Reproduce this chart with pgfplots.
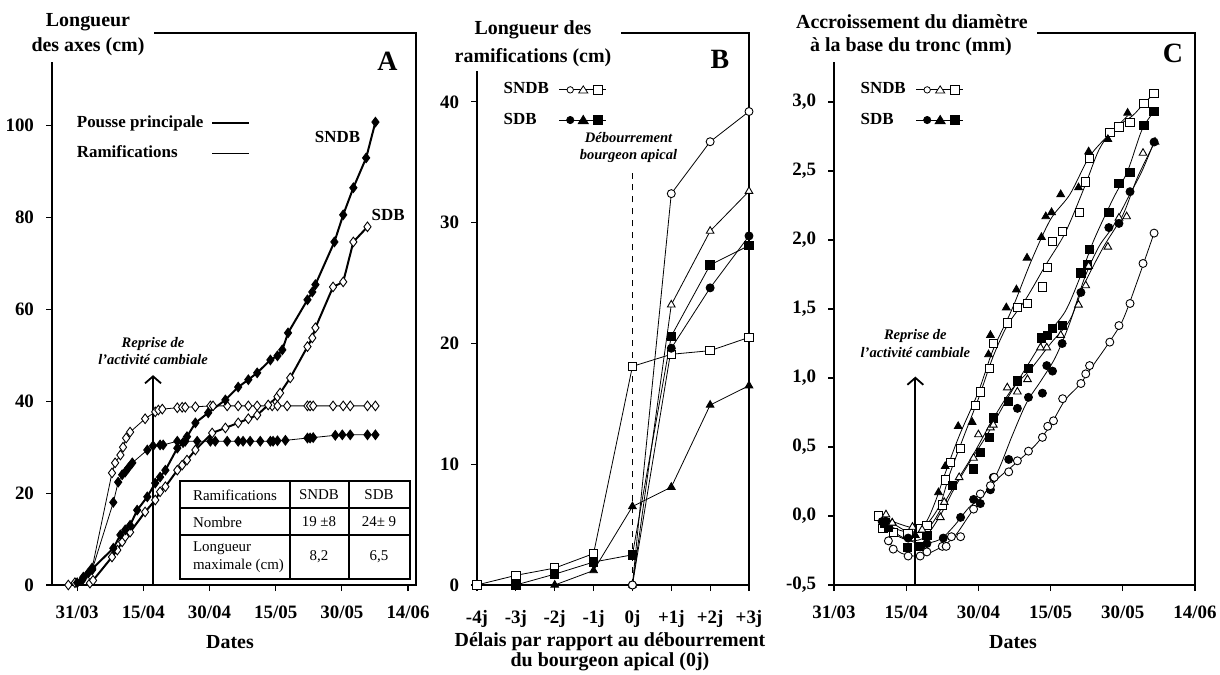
\documentclass[border=0pt]{standalone}
\usepackage{fontspec}
\setmainfont{Liberation Serif}
\usepackage{pgfplots}
\pgfplotsset{compat=1.18}
\usetikzlibrary{arrows.meta}
\newcommand{\tlf}{\fontsize{10}{11}\selectfont\bfseries}
\newcommand{\tkf}{\fontsize{9.5}{11}\selectfont\bfseries}
\newcommand{\lgf}{\fontsize{8.5}{10}\selectfont\bfseries}
\newcommand{\itf}{\fontsize{7.3}{8.6}\selectfont\bfseries\itshape}
\newcommand{\tbf}{\fontsize{7.5}{9}\selectfont}
\pgfplotsset{
  panel/.style={scale only axis, anchor=south west, height=276bp,
    axis line style={line width=0.75bp}, tick align=outside, tick pos=left,
    major tick length=3bp, tick style={black, line width=0.6bp},
    tick label style={font=\tkf}, clip=false,
    xticklabel style={yshift=-4bp}, yticklabel style={xshift=-2.5bp},
    legend style={draw=none, fill=none, font=\lgf, legend cell align=left},
    legend plot pos=right},
  op/.style={mark options={fill=white, solid, line width=0.45bp}},
  fp/.style={mark options={fill=black, solid, line width=0.45bp}},
}
\begin{document}
\begin{tikzpicture}
\path[use as bounding box] (0,0) rectangle (610bp,337.5bp);

%%%%%%%%%%%%%%%% Panel A
\begin{axis}[panel, at={(26bp,45bp)}, width=182bp,
  xmin=-5.7, xmax=76.8, ymin=0, ymax=120.2,
  xtick={0,15,30,45,60,75}, xticklabels={31/03,15/04,30/04,15/05,30/05,14/06},
  ytick={0,20,40,60,80,100}, yticklabels={0,20,40,60,80,100},
  legend style={at={(axis description cs:0.04,0.865)}, anchor=north west, row sep=3.5bp, column sep=2bp}]
\addlegendimage{line width=1bp, legend image code/.code={\draw (0bp,0bp) -- (18.5bp,0bp);}}
\addlegendentry{Pousse principale}
\addlegendimage{line width=0.4bp, legend image code/.code={\draw (0bp,0bp) -- (18.5bp,0bp);}}
\addlegendentry{Ramifications}
% ramifications, open
\addplot[forget plot, black, line width=0.4bp, mark=diamond*, mark size=2.4bp, op] coordinates {
(-2.0,0)(-0.5,0.5)(1.4,1.5)(3.4,3.7)(7.9,24.4)(8.6,26.6)(9.8,28.3)(10.4,30.0)(11.1,32.0)(12.0,33.3)(15.4,36.2)(17.7,37.7)(18.4,38.1)(19.3,38.3)(22.7,38.6)(23.8,38.7)(24.5,38.7)(26.8,38.8)(30.2,39)(30.8,39)(34.0,39)(36.5,39)(38.8,39)(40.8,39)(44.2,39)(45.4,39)(47.6,39)(52.2,39)(52.8,39)(53.5,39)(58.0,39)(60.3,39)(61.9,39)(65.8,39)(67.6,39)};
% ramifications, filled
\addplot[forget plot, black, line width=0.4bp, mark=diamond*, mark size=2.4bp, fp] coordinates {
(0.0,0.5)(1.4,1.7)(3.4,3.3)(8.2,18.0)(9.3,22.4)(10.2,24.0)(10.9,24.6)(11.6,25.5)(12.5,26.6)(15.9,29.4)(17.2,30.3)(18.8,30.5)(19.5,30.5)(22.7,31.3)(24.5,31.3)(27.2,31.3)(30.2,31.3)(31.3,31.3)(34.0,31.3)(36.5,31.3)(37.6,31.3)(39.2,31.3)(41.5,31.3)(43.8,31.3)(44.4,31.3)(45.4,31.4)(47.2,31.5)(52.2,32.0)(52.8,32.0)(53.5,32.1)(58.5,32.6)(60.1,32.7)(61.9,32.7)(65.8,32.7)(67.6,32.7)};
% main shoot, open (SDB)
\addplot[forget plot, black, line width=1bp, mark=diamond*, mark size=2.4bp, op] coordinates {
(2.9,0.4)(3.6,1.0)(7.9,6.1)(9.1,7.6)(10.2,9.4)(10.9,10.5)(12.0,11.5)(15.4,15.9)(17.7,18.5)(18.8,20.3)(20.0,21.4)(22.7,25.0)(23.8,26.1)(24.9,27.2)(26.8,29.4)(30.6,33.1)(33.6,34.2)(36.5,35.3)(38.8,36.2)(40.8,37.0)(43.3,39.2)(45.4,41.0)(46.0,41.8)(48.3,45.1)(52.2,51.9)(53.3,53.8)(54.0,56.0)(58.0,64.9)(60.3,66.0)(62.6,74.7)(65.8,78.0)};
% main shoot, filled (SNDB)
\addplot[forget plot, black, line width=1bp, mark=diamond*, mark size=2.4bp, fp] coordinates {
(1.1,1.0)(2.5,2.6)(3.4,3.5)(8.2,8.0)(9.8,10.9)(10.9,12.0)(12.0,13.0)(13.6,16.3)(15.9,19.2)(17.7,22.2)(18.8,23.5)(20.0,25.0)(22.7,29.8)(24.0,31.0)(24.9,32.3)(26.8,35.3)(29.7,37.5)(33.6,40.3)(36.5,43.1)(38.8,44.7)(40.8,46.2)(43.8,49.0)(45.4,49.9)(46.5,51.2)(47.8,54.9)(52.2,62.1)(53.3,63.8)(54.0,65.4)(58.3,74.7)(60.3,80.6)(62.6,86.5)(65.5,93.0)(67.6,100.8)};
\draw[line width=0.9bp, -{Straight Barb[length=3.5bp, width=8bp]}] (axis cs:17.2,0) -- (axis cs:17.2,45.7);
\node[font=\itf, align=center] at (axis cs:17.2,51) {Reprise de\\l'activité cambiale};
\node[font=\lgf] at (axis cs:59,97.6) {SNDB};
\node[font=\lgf] at (axis cs:70.5,80.6) {SDB};
\node[font=\fontsize{14}{16}\selectfont\bfseries] at (axis cs:70.3,114) {A};
\end{axis}

%%%%%%%%%%%%%%%% Panel B
\begin{axis}[panel, at={(238.5bp,45bp)}, width=136bp,
  xmin=-4, xmax=3, ymin=0, ymax=45.7,
  xtick={-4,-3,-2,-1,0,1,2,3}, xticklabels={-4j,-3j,-2j,-1j,0j,+1j,+2j,+3j},
  xticklabel style={yshift=-2bp},
  ytick={0,10,20,30,40}, yticklabels={0,10,20,30,40},
  legend style={at={(axis description cs:0.06,0.925)}, anchor=north west, row sep=4bp, column sep=3bp}]
\addlegendimage{legend image code/.code={
  \draw[line width=0.4bp] (0bp,0bp) -- (23.5bp,0bp);
  \draw[line width=0.4bp, fill=white] (5.5bp,0bp) circle (1.6bp);
  \draw[line width=0.4bp, fill=white] (12bp,2bp) -- (14.3bp,-1.6bp) -- (9.7bp,-1.6bp) -- cycle;
  \draw[line width=0.4bp, fill=white] (17.3bp,-2.2bp) rectangle (21.7bp,2.2bp);}}
\addlegendentry{SNDB}
\addlegendimage{legend image code/.code={
  \draw[line width=0.4bp] (0bp,0bp) -- (23.5bp,0bp);
  \fill (5.5bp,0bp) circle (1.8bp);
  \fill (12bp,2.3bp) -- (14.5bp,-1.8bp) -- (9.5bp,-1.8bp) -- cycle;
  \fill (17.3bp,-2.2bp) rectangle (21.7bp,2.2bp);}}
\addlegendentry{SDB}
\draw[dashed, line width=0.45bp] (axis cs:0,0) -- (axis cs:0,34.5);
\addplot[forget plot, black, line width=0.4bp, mark=square*, mark size=2.1bp, op] coordinates {
(-4,0)(-3,0.8)(-2,1.4)(-1,2.6)(0,18.1)(1,19.1)(2,19.4)(3,20.5)};
\addplot[forget plot, black, line width=0.4bp, mark=triangle*, mark size=2.2bp, fp] coordinates {
(-2,0)(-1,1.2)(0,6.5)(1,8.1)(2,14.9)(3,16.5)};
\addplot[forget plot, black, line width=0.4bp, mark=square*, mark size=2.1bp, fp] coordinates {
(-3,0)(-2,0.9)(-1,1.9)(0,2.5)(1,20.6)(2,26.5)(3,28.1)};
\addplot[forget plot, black, line width=0.4bp, mark=*, mark size=2bp, fp] coordinates {
(0,0)(1,19.6)(2,24.6)(3,28.9)};
\addplot[forget plot, black, line width=0.4bp, mark=triangle*, mark size=2.2bp, op] coordinates {
(0,0)(1,23.2)(2,29.3)(3,32.6)};
\addplot[forget plot, black, line width=0.4bp, mark=*, mark size=2bp, op] coordinates {
(0,0)(1,32.4)(2,36.7)(3,39.2)};
\node[font=\itf, align=center] at (axis cs:-0.1,36.2) {Débourrement\\bourgeon apical};
\node[font=\fontsize{14}{16}\selectfont\bfseries] at (axis cs:2.25,43.5) {B};
\end{axis}

%%%%%%%%%%%%%%%% Panel C
\begin{axis}[panel, at={(417bp,45bp)}, width=180.5bp,
  xmin=0, xmax=75, ymin=-0.5, ymax=3.5,
  xtick={0,15,30,45,60,75}, xticklabels={31/03,15/04,30/04,15/05,30/05,14/06},
  ytick={-0.5,0,0.5,1,1.5,2,2.5,3}, yticklabels={{-0,5},{0,0},{0,5},{1,0},{1,5},{2,0},{2,5},{3,0}},
  legend style={at={(axis description cs:0.045,0.925)}, anchor=north west, row sep=4bp, column sep=3bp}]
\addlegendimage{legend image code/.code={
  \draw[line width=0.4bp] (0bp,0bp) -- (23.5bp,0bp);
  \draw[line width=0.4bp, fill=white] (5.5bp,0bp) circle (1.6bp);
  \draw[line width=0.4bp, fill=white] (12bp,2bp) -- (14.3bp,-1.6bp) -- (9.7bp,-1.6bp) -- cycle;
  \draw[line width=0.4bp, fill=white] (17.3bp,-2.2bp) rectangle (21.7bp,2.2bp);}}
\addlegendentry{SNDB}
\addlegendimage{legend image code/.code={
  \draw[line width=0.4bp] (0bp,0bp) -- (23.5bp,0bp);
  \fill (5.5bp,0bp) circle (1.8bp);
  \fill (12bp,2.3bp) -- (14.5bp,-1.8bp) -- (9.5bp,-1.8bp) -- cycle;
  \fill (17.3bp,-2.2bp) rectangle (21.7bp,2.2bp);}}
\addlegendentry{SDB}
% fitted lines
\addplot[forget plot, black, line width=0.4bp, smooth, no marks] coordinates {
(9,0.0)(12,-0.05)(16,-0.12)(19,-0.05)(21,0.1)(23,0.3)(26,0.58)(30,0.9)(33,1.2)(37,1.5)(41,1.85)(45,2.15)(49,2.33)(53,2.6)(57,2.76)(61,2.9)};
\addplot[forget plot, black, line width=0.4bp, smooth, no marks] coordinates {
(9,0.0)(12,-0.08)(16,-0.12)(19,-0.07)(22,0.08)(24,0.3)(27,0.58)(30,0.85)(33,1.15)(36,1.38)(40,1.58)(44,1.82)(48,2.05)(52,2.38)(55,2.65)(58,2.8)(62,2.9)(64.4,2.99)(66.5,3.06)};
\addplot[forget plot, black, line width=0.4bp, smooth, no marks] coordinates {
(10,-0.05)(13,-0.14)(16,-0.18)(19,-0.15)(22,0.0)(25,0.2)(28,0.38)(32,0.6)(36,0.85)(40,1.08)(44,1.3)(48,1.48)(51,1.72)(54,2.0)(58,2.3)(61,2.5)(64,2.8)(66.5,2.93)};
\addplot[forget plot, black, line width=0.4bp, smooth, no marks] coordinates {
(10,0.0)(13,-0.05)(17,-0.09)(20,-0.07)(23,0.1)(26,0.28)(29,0.45)(33,0.7)(37,0.92)(41,1.07)(45,1.25)(49,1.42)(52,1.68)(56,1.95)(60,2.18)(63,2.45)(66.5,2.7)};
\addplot[forget plot, black, line width=0.4bp, smooth, no marks] coordinates {
(10,-0.05)(14,-0.15)(18,-0.2)(22,-0.17)(25,-0.07)(28,0.06)(31,0.15)(34,0.32)(37,0.58)(40,0.82)(43,0.98)(46,1.15)(49,1.4)(52,1.72)(55,1.95)(58,2.1)(61,2.3)(64,2.5)(66.5,2.71)};
\addplot[forget plot, black, line width=0.4bp, smooth, no marks] coordinates {
(11,-0.18)(14,-0.27)(18,-0.29)(22,-0.23)(25,-0.15)(28,0.0)(31,0.15)(34,0.27)(38,0.39)(42,0.52)(45,0.66)(48,0.84)(51,0.95)(54,1.1)(57,1.25)(60,1.42)(63,1.7)(66.5,2.05)};
% marks
\addplot[forget plot, only marks, mark=square*, mark size=2.1bp, op] coordinates {
(9.2,0.0)(10.2,-0.09)(12.3,-0.12)(15.4,-0.13)(17.9,-0.09)(19.3,-0.07)(22.5,0.08)(23.1,0.26)(24.2,0.39)(26.3,0.49)(29.4,0.80)(30.4,0.90)(32.3,1.07)(33.1,1.25)(36.0,1.40)(38.1,1.51)(40.2,1.54)(43.3,1.66)(44.4,1.80)(45.4,1.99)(47.5,2.06)(51.0,2.20)(52.3,2.42)(53.1,2.59)(57.3,2.78)(59.2,2.82)(61.5,2.85)(64.4,2.99)(66.5,3.06)};
\addplot[forget plot, only marks, mark=triangle*, mark size=2.2bp, fp] coordinates {
(10.8,-0.03)(12.1,-0.05)(16.9,-0.14)(21.7,0.17)(23.1,0.36)(25.8,0.65)(28.7,0.68)(32.1,1.17)(32.5,1.31)(35.8,1.51)(37.9,1.64)(40.1,1.87)(43.1,2.02)(44.0,2.17)(45.2,2.20)(47.1,2.33)(50.8,2.38)(52.9,2.64)(56.9,2.73)(61.0,2.92)};
\addplot[forget plot, only marks, mark=square*, mark size=2.1bp, fp] coordinates {
(10.6,-0.05)(11.3,-0.08)(15.2,-0.23)(17.9,-0.22)(19.3,-0.14)(24.6,0.22)(29.0,0.34)(30.4,0.46)(32.3,0.57)(33.1,0.71)(36.3,0.83)(38.1,0.98)(40.4,1.07)(43.1,1.29)(44.4,1.31)(45.4,1.36)(47.5,1.38)(51.3,1.76)(52.7,1.82)(53.1,1.93)(57.1,2.20)(59.2,2.41)(61.5,2.49)(64.4,2.83)(66.5,2.93)};
\addplot[forget plot, only marks, mark=triangle*, mark size=2.2bp, op] coordinates {
(10.8,0.01)(12.1,-0.05)(16.3,-0.08)(18.3,-0.10)(22.1,-0.01)(22.9,0.10)(26.0,0.28)(29.0,0.42)(30.0,0.59)(32.5,0.64)(33.1,0.66)(36.0,0.93)(38.1,0.90)(40.2,0.99)(42.9,1.22)(44.2,1.22)(47.1,1.31)(50.8,1.53)(52.3,1.67)(52.9,1.81)(56.9,1.95)(59.2,2.16)(60.8,2.17)(64.2,2.63)(66.7,2.71)};
\addplot[forget plot, only marks, mark=*, mark size=2bp, fp] coordinates {
(10.0,-0.04)(15.4,-0.16)(19.3,-0.20)(22.7,-0.16)(26.3,-0.01)(29.0,0.12)(30.4,0.09)(32.5,0.19)(33.1,0.28)(36.3,0.41)(38.1,0.78)(40.4,0.86)(43.3,0.89)(44.2,1.09)(45.4,1.05)(47.4,1.25)(51.3,1.62)(53.1,1.93)(57.1,2.09)(59.2,2.12)(61.5,2.35)(66.5,2.71)};
\addplot[forget plot, only marks, mark=*, mark size=2bp, op] coordinates {
(11.3,-0.18)(12.3,-0.24)(15.4,-0.29)(17.9,-0.29)(19.3,-0.26)(22.5,-0.22)(23.3,-0.22)(24.4,-0.15)(26.3,-0.15)(29.0,0.05)(30.4,0.16)(32.5,0.22)(33.3,0.28)(36.3,0.32)(38.1,0.40)(40.4,0.47)(43.3,0.57)(44.4,0.65)(45.6,0.69)(47.5,0.85)(51.3,0.96)(52.3,1.03)(53.1,1.09)(57.3,1.26)(59.2,1.38)(61.5,1.54)(64.2,1.83)(66.5,2.05)};
\draw[line width=0.9bp, -{Straight Barb[length=3.5bp, width=8bp]}] (axis cs:16.9,-0.5) -- (axis cs:16.9,1.01);
\node[font=\itf, align=center] at (axis cs:16.9,1.25) {Reprise de\\l'activité cambiale};
\node[font=\fontsize{14}{16}\selectfont\bfseries] at (axis cs:70.4,3.35) {C};
\end{axis}

%%%%%%%%%%%%%%%% overlay in pixel coordinates
\begin{scope}[x=0.5bp, y=-0.5bp, shift={(0bp,337.5bp)}]
\fill[white] (42,26) rectangle (154,62);
\fill[white] (468,26) rectangle (621,71);
\fill[white] (826,26) rectangle (1037,62);
\node[font=\tlf] at (88,22) {Longueur};
\node[font=\tlf] at (88,47) {des axes (cm)};
\node[font=\tlf] at (533,30) {Longueur des};
\node[font=\tlf] at (533,58) {ramifications (cm)};
\node[font=\tlf] at (912,22) {Accroissement du diamètre};
\node[font=\tlf] at (911,47) {à la base du tronc (mm)};
% table
\fill[white] (180,481) rectangle (410,579);
\draw[line width=0.9bp] (180,481) rectangle (410,579);
\draw[line width=0.6bp] (180,508) -- (410,508) (180,535) -- (410,535) (290,481) -- (290,579) (349,481) -- (349,579);
\begin{scope}[font=\tbf]
\node[anchor=west] at (186,495) {Ramifications};
\node at (319,495) {SNDB}; \node at (379,495) {SDB};
\node[anchor=west] at (186,522) {Nombre};
\node at (319,522) {19 ±8}; \node at (379,522) {24± 9};
\node[anchor=west, align=left] at (186,557) {Longueur\\maximale (cm)};
\node at (319,557) {8,2}; \node at (379,557) {6,5};
\end{scope}
% axis titles
\node[font=\tlf] at (230,642) {Dates};
\node[font=\tlf] at (610,642) {Délais par rapport au débourrement};
\node[font=\tlf] at (610,662) {du bourgeon apical (0j)};
\node[font=\tlf] at (1013,642) {Dates};
\end{scope}
\end{tikzpicture}
\end{document}
